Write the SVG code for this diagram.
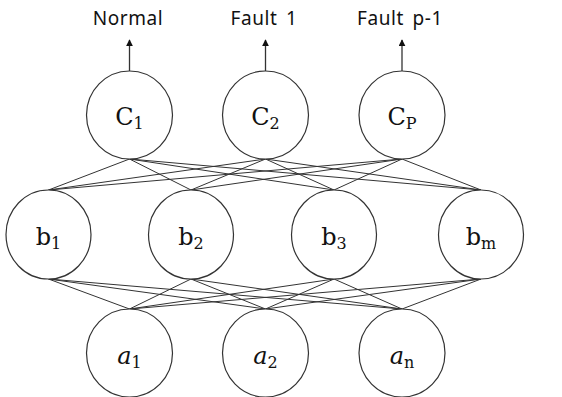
<svg xmlns="http://www.w3.org/2000/svg" width="562" height="397" viewBox="0 0 562 397">
  <defs>
    <marker id="arrowhead" viewBox="0 0 10 10" refX="9" refY="5" markerWidth="7" markerHeight="7" markerUnits="userSpaceOnUse" orient="auto">
      <path d="M0,0 L10,5 L0,10 z" fill="#111"/>
    </marker>
    <style>
      .node ellipse { fill: #fff; stroke: #333; stroke-width: 1.2; }
      .edges line { stroke: #333; stroke-width: 1; }
      .out line { stroke: #333; stroke-width: 1.3; }
      .lbl { font-family: "Noto Sans", "Liberation Sans", sans-serif; font-size: 19px; fill: #111; text-anchor: middle; letter-spacing: 0.6px; word-spacing: 3px; }
      .math { font-family: "DejaVu Serif", "Liberation Serif", serif; font-size: 24px; fill: #111; text-anchor: middle; }
      .math .sub { font-size: 16px; }
      .ital { font-style: italic; }
    </style>
  </defs>

  <rect width="562" height="397" fill="#fff"/>

  <!-- connectors: output -> hidden, hidden -> input -->
  <g id="connectors" class="edges">
    <line x1="129.5" y1="159" x2="48.5" y2="190"/>
    <line x1="129.5" y1="159" x2="191" y2="190"/>
    <line x1="129.5" y1="159" x2="334" y2="190"/>
    <line x1="129.5" y1="159" x2="481" y2="190"/>
    <line x1="265.5" y1="159" x2="48.5" y2="190"/>
    <line x1="265.5" y1="159" x2="191" y2="190"/>
    <line x1="265.5" y1="159" x2="334" y2="190"/>
    <line x1="265.5" y1="159" x2="481" y2="190"/>
    <line x1="402" y1="159" x2="48.5" y2="190"/>
    <line x1="402" y1="159" x2="191" y2="190"/>
    <line x1="402" y1="159" x2="334" y2="190"/>
    <line x1="402" y1="159" x2="481" y2="190"/>

    <line x1="48.5" y1="279" x2="129.5" y2="309"/>
    <line x1="48.5" y1="279" x2="265.5" y2="309"/>
    <line x1="48.5" y1="279" x2="402" y2="309"/>
    <line x1="191" y1="279" x2="129.5" y2="309"/>
    <line x1="191" y1="279" x2="265.5" y2="309"/>
    <line x1="191" y1="279" x2="402" y2="309"/>
    <line x1="334" y1="279" x2="129.5" y2="309"/>
    <line x1="334" y1="279" x2="265.5" y2="309"/>
    <line x1="334" y1="279" x2="402" y2="309"/>
    <line x1="481" y1="279" x2="129.5" y2="309"/>
    <line x1="481" y1="279" x2="265.5" y2="309"/>
    <line x1="481" y1="279" x2="402" y2="309"/>
  </g>

  <!-- output arrows -->
  <g id="outputs" class="out">
    <line x1="129.5" y1="71" x2="129.5" y2="40" marker-end="url(#arrowhead)"/>
    <line x1="265.5" y1="71" x2="265.5" y2="40" marker-end="url(#arrowhead)"/>
    <line x1="402" y1="71" x2="402" y2="40" marker-end="url(#arrowhead)"/>
  </g>

  <g id="labels">
    <text class="lbl" x="128" y="25">Normal</text>
    <text class="lbl" x="264" y="25">Fault 1</text>
    <text class="lbl" x="400" y="25">Fault p-1</text>
  </g>

  <!-- output layer -->
  <g id="c1" class="node">
    <ellipse cx="129.5" cy="115" rx="43" ry="44"/>
    <text class="math" x="129.5" y="125">C<tspan class="sub" dy="4">1</tspan></text>
  </g>
  <g id="c2" class="node">
    <ellipse cx="265.5" cy="115" rx="43" ry="44"/>
    <text class="math" x="265.5" y="125">C<tspan class="sub" dy="4">2</tspan></text>
  </g>
  <g id="cp" class="node">
    <ellipse cx="402" cy="115" rx="43" ry="44"/>
    <text class="math" x="402" y="125">C<tspan class="sub" dy="4">P</tspan></text>
  </g>

  <!-- hidden layer -->
  <g id="b1" class="node">
    <ellipse cx="48.5" cy="234.5" rx="42.5" ry="44.5"/>
    <text class="math" x="48.5" y="245">b<tspan class="sub" dy="4">1</tspan></text>
  </g>
  <g id="b2" class="node">
    <ellipse cx="191" cy="234.5" rx="42.5" ry="44.5"/>
    <text class="math" x="191" y="245">b<tspan class="sub" dy="4">2</tspan></text>
  </g>
  <g id="b3" class="node">
    <ellipse cx="334" cy="234.5" rx="42.5" ry="44.5"/>
    <text class="math" x="334" y="245">b<tspan class="sub" dy="4">3</tspan></text>
  </g>
  <g id="bm" class="node">
    <ellipse cx="481" cy="234.5" rx="42.5" ry="44.5"/>
    <text class="math" x="481" y="245">b<tspan class="sub" dy="4">m</tspan></text>
  </g>

  <!-- input layer -->
  <g id="a1" class="node">
    <ellipse cx="129.5" cy="353" rx="43" ry="44"/>
    <text class="math" x="129.5" y="364"><tspan class="ital">a</tspan><tspan class="sub" dy="4">1</tspan></text>
  </g>
  <g id="a2" class="node">
    <ellipse cx="265.5" cy="353" rx="43" ry="44"/>
    <text class="math" x="265.5" y="364"><tspan class="ital">a</tspan><tspan class="sub" dy="4">2</tspan></text>
  </g>
  <g id="an" class="node">
    <ellipse cx="402" cy="353" rx="43" ry="44"/>
    <text class="math" x="402" y="364"><tspan class="ital">a</tspan><tspan class="sub" dy="4">n</tspan></text>
  </g>
</svg>
